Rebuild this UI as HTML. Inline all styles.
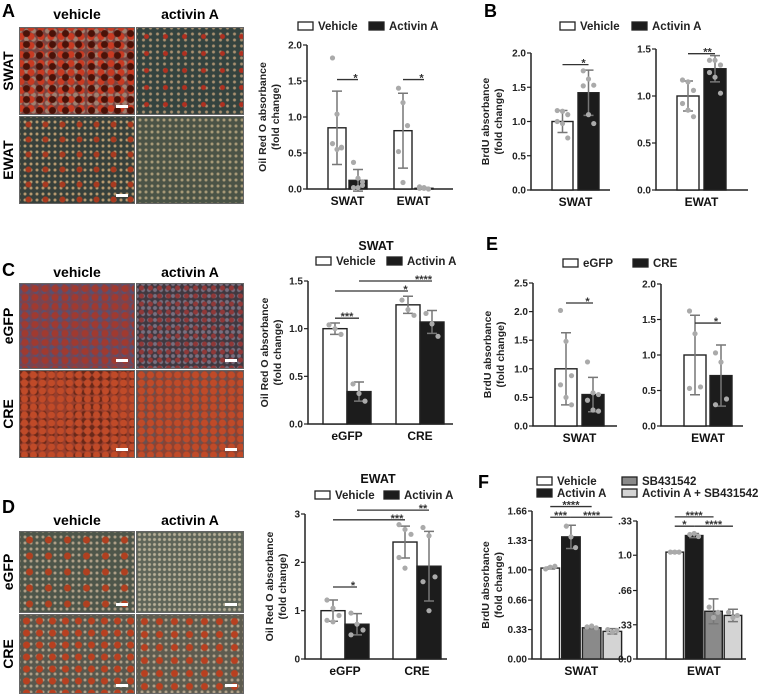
<!DOCTYPE html>
<html><head><meta charset="utf-8"><style>
body{margin:0;background:#fff;width:782px;height:698px;overflow:hidden;position:relative;font-family:"Liberation Sans",Arial,sans-serif}
.img{position:absolute;border:1px solid #666;box-sizing:border-box}
.sb{position:absolute;width:12px;height:3px;background:#fff;right:6px;bottom:6px}
svg{position:absolute;left:0;top:0}
text{font-family:"Liberation Sans",Arial,sans-serif;font-weight:bold}
</style></head><body>
<div class="img" style="left:19px;top:27px;width:116px;height:88px;background:radial-gradient(circle,#4a1208 0 3px,transparent 4px) 0 0/13px 11px,radial-gradient(circle,#c83a22 0 3px,transparent 4px) 6px 4px/10px 9px,radial-gradient(circle,#a08070 0 2px,transparent 3px) 3px 7px/7px 8px,#7a4440"><div class="sb"></div></div>
<div class="img" style="left:136px;top:27px;width:108px;height:88px;background:radial-gradient(circle,#b03020 0 2px,transparent 3px) 0 0/19px 17px,radial-gradient(circle,#a89070 0 1px,transparent 2px) 3px 3px/7px 6px,#34433f"></div>
<div class="img" style="left:19px;top:116px;width:116px;height:88px;background:radial-gradient(circle,#a83a20 0 2.5px,transparent 3.5px) 0 0/17px 15px,radial-gradient(circle,#b89a70 0 1px,transparent 2px) 2px 2px/6px 6px,#37403b"><div class="sb"></div></div>
<div class="img" style="left:136px;top:116px;width:108px;height:88px;background:radial-gradient(circle,#a89a78 0 1px,transparent 2px) 0 0/6px 6px,#4a5346"></div>
<div class="img" style="left:19px;top:283px;width:116px;height:86px;background:radial-gradient(circle,#a03a30 0 3px,transparent 4px) 0 0/10px 9px,radial-gradient(circle,#5a5070 0 2px,transparent 3px) 4px 4px/8px 7px,#7a4450"><div class="sb"></div></div>
<div class="img" style="left:136px;top:283px;width:108px;height:86px;background:radial-gradient(circle,#903838 0 2px,transparent 3px) 0 0/9px 8px,radial-gradient(circle,#787080 0 1.5px,transparent 2.5px) 3px 3px/6px 6px,#403840"><div class="sb"></div></div>
<div class="img" style="left:19px;top:370px;width:116px;height:88px;background:radial-gradient(circle,#c04a28 0 3px,transparent 4px) 0 0/9px 8px,radial-gradient(circle,#6a2818 0 2px,transparent 3px) 4px 4px/8px 7px,#983e2c"><div class="sb"></div></div>
<div class="img" style="left:136px;top:370px;width:108px;height:88px;background:radial-gradient(circle,#c04a28 0 3px,transparent 4px) 0 0/9px 8px,radial-gradient(circle,#6a5050 0 2px,transparent 3px) 4px 4px/8px 7px,#8c4232"><div class="sb"></div></div>
<div class="img" style="left:19px;top:531px;width:116px;height:82px;background:radial-gradient(circle,#b04020 0 3px,transparent 4px) 0 0/19px 16px,radial-gradient(circle,#b0a088 0 1px,transparent 2px) 2px 2px/6px 6px,#4e564a"><div class="sb"></div></div>
<div class="img" style="left:136px;top:531px;width:108px;height:82px;background:radial-gradient(circle,#b8b098 0 1px,transparent 2px) 0 0/5px 5px,#5e6458"><div class="sb"></div></div>
<div class="img" style="left:19px;top:614px;width:116px;height:80px;background:radial-gradient(circle,#b84020 0 3px,transparent 4px) 0 0/13px 12px,radial-gradient(circle,#b0a088 0 1px,transparent 2px) 2px 2px/6px 6px,#58584e"><div class="sb"></div></div>
<div class="img" style="left:136px;top:614px;width:108px;height:80px;background:radial-gradient(circle,#b84020 0 3px,transparent 4px) 0 0/15px 13px,radial-gradient(circle,#b0a088 0 1px,transparent 2px) 2px 2px/6px 6px,#5e5c50"><div class="sb"></div></div>

<svg id="fig" width="782" height="698" xmlns="http://www.w3.org/2000/svg">
<g font-size="18">
<text x="2" y="17">A</text><text x="484" y="17">B</text><text x="2" y="276">C</text><text x="486" y="250">E</text><text x="2" y="513">D</text><text x="478" y="488">F</text>
</g>
<g font-size="14" text-anchor="middle">
<text x="77" y="19">vehicle</text><text x="190" y="19">activin A</text>
<text x="77" y="277">vehicle</text><text x="190" y="277">activin A</text>
<text x="77" y="525">vehicle</text><text x="190" y="525">activin A</text>
<text transform="translate(13,71) rotate(-90)">SWAT</text><text transform="translate(13,160) rotate(-90)">EWAT</text>
<text transform="translate(13,326) rotate(-90)">eGFP</text><text transform="translate(13,414) rotate(-90)">CRE</text>
<text transform="translate(13,572) rotate(-90)">eGFP</text><text transform="translate(13,654) rotate(-90)">CRE</text>
</g>
</svg>
<script>
// Panel A
const aCats=["SWAT","EWAT"];
const aVeh=[0.85,0.81], aVehErr=[0.51,0.52];
const aAct=[0.12,0.01], aActErr=[0.15,0.01];
const aVehPts=[[1.82,1.04,0.58,0.63,0.55,0.57],[1.4,1.2,0.88,0.52,0.09]];
const aActPts=[[0.37,0.15,0.1,0.02,0.02,0.05],[0.03,0.01,0.0,0.01,0.02]];
const aTicks=[0,0.5,1,1.5,2], aTickLabels=["0.0","0.5","1.0","1.5","2.0"];
// Panel B
const bSwatVals=[1.0,1.42], bSwatErr=[0.16,0.33];
const bSwatPts=[[1.16,1.15,1.1,1.0,0.97,0.76],[1.74,1.62,1.53,1.52,1.1,0.97]];
const bEwatVals=[1.0,1.29], bEwatErr=[0.16,0.14];
const bEwatPts=[[1.17,1.15,1.06,0.92,0.85,0.78],[1.38,1.38,1.33,1.25,1.2,1.03]];
const bSwatTicks=[0,0.5,1,1.5,2], bSwatTickLabels=["0.0","0.5","1.0","1.5","2.0"];
const bEwatTicks=[0,0.5,1,1.5], bEwatTickLabels=["0.0","0.5","1.0","1.5"];
// Panel C
const cCats=["eGFP","CRE"];
const cVeh=[1.0,1.25], cVehErr=[0.06,0.09];
const cAct=[0.34,1.07], cActErr=[0.1,0.12];
const cVehPts=[[1.04,1.0,0.94],[1.3,1.2,1.14]];
const cActPts=[[0.42,0.32,0.24],[1.16,1.05,0.92]];
const cTicks=[0,0.5,1,1.5], cTickLabels=["0.0","0.5","1.0","1.5"];
// Panel D
const dVeh=[1.0,2.42], dVehErr=[0.22,0.33];
const dAct=[0.72,1.92], dActErr=[0.22,0.72];
const dVehPts=[[1.22,1.05,0.9,0.8,0.77],[2.78,2.68,2.58,2.1,1.88]];
const dActPts=[[0.95,0.72,0.6,0.5],[2.72,2.55,1.7,1.6,1.0]];
const dTicks=[0,1,2,3], dTickLabels=["0","1","2","3"];
// Panel E
const eSwatVals=[1.0,0.55], eSwatErr=[0.63,0.3];
const eSwatPts=[[2.02,1.48,0.88,0.72,0.5,0.37],[1.12,0.58,0.55,0.45,0.28,0.26]];
const eEwatVals=[1.0,0.71], eEwatErr=[0.56,0.43];
const eEwatPts=[[1.62,1.3,0.55,0.53],[1.03,0.9,0.38,0.3]];
const eSwatTicks=[0,0.5,1,1.5,2,2.5], eSwatTickLabels=["0.0","0.5","1.0","1.5","2.0","2.5"];
const eEwatTicks=[0,0.5,1,1.5,2], eEwatTickLabels=["0.0","0.5","1.0","1.5","2.0"];
// Panel F
const fSwatVals=[1.02,1.37,0.35,0.31], fSwatErr=[0.01,0.13,0.01,0.03];
const fSwatPts=[[1.01,1.03,1.04],[1.49,1.37,1.25],[0.36,0.37,0.35],[0.33,0.3,0.32]];
const fEwatVals=[1.03,1.19,0.46,0.42], fEwatErr=[0.01,0.02,0.12,0.06];
const fEwatPts=[[1.03,1.03,1.03],[1.2,1.21,1.18],[0.5,0.4,0.45],[0.45,0.4,0.42]];
const fSwatTicks=[0,0.33,0.66,1.0,1.33,1.66], fSwatTickLabels=["0.00","0.33","0.66","1.00","1.33","1.66"];
const fEwatTicks=[0,0.33,0.66,1.0,1.33], fEwatTickLabels=["0.0",".33",".66","1.0",".33"];

const NS="http://www.w3.org/2000/svg", svg=document.getElementById("fig");
function el(tag,attrs,parent,txt){const e=document.createElementNS(NS,tag);for(const k in attrs)e.setAttribute(k,attrs[k]);if(txt!==undefined)e.textContent=txt;(parent||svg).appendChild(e);return e;}

function chart(c){
  const g=el("g",{});
  
  
  const y=v=>c.yb-(v/c.max)*(c.yb-c.yt);
  const bx=(gi,si)=>c.x0+c.off+gi*c.gstep+si*c.bstep;
  const ax=el("path",{d:`M${c.x0},${c.yt} V${c.yb} H${c.x1}`,stroke:"#222","stroke-width":1.5,fill:"none"},g);
  
  
  c.ticks.forEach((t,i)=>{
    el("line",{x1:c.x0-4,x2:c.x0,y1:y(t),y2:y(t),stroke:"#222","stroke-width":1.2},g);
    const tl=el("text",{x:c.x0-5,y:y(t)+3.5,"font-size":10,"text-anchor":"end",fill:"#222"},g,c.tickLabels[i]);
    
    
  });
  c.series.forEach((s,si)=>{
    s.vals.forEach((v,gi)=>{
      const x=bx(gi,si), cx=x+c.bw/2;
      const r=el("rect",{x:x,y:y(v),width:c.bw,height:c.yb-y(v),fill:s.fill,stroke:"#222","stroke-width":1.4},g);
      
      
      const e=s.err[gi];
      el("path",{d:`M${cx},${y(v-e)} V${y(v+e)} M${cx-5},${y(v-e)} H${cx+5} M${cx-5},${y(v+e)} H${cx+5}`,stroke:"#777","stroke-width":1.5,fill:"none"},g);
      const pts=s.pts[gi];
      pts.forEach((p,pi)=>{
        const jit=pts.length>1?(pi%3-1)*c.bw*0.25:0;
        const d=el("circle",{cx:cx+jit,cy:y(p),r:2.6,fill:"#aaa"},g);
        
        
      });
    });
  });
  (c.sigs||[]).forEach(sg=>{
    const xa=bx(sg[0],sg[1])+c.bw/2, xb=bx(sg[2],sg[3])+c.bw/2, yy=y(sg[4]);
    el("line",{x1:xa,x2:xb,y1:yy,y2:yy,stroke:"#333","stroke-width":1.3},g);
    const st=el("text",{x:(xa+xb)/2+(sg[6]||0),y:yy+2,"font-size":11,"text-anchor":"middle",fill:"#333"},g,sg[5]);
    
    
  });
  c.cats.forEach((cat,gi)=>{
    const cx=(bx(gi,0)+bx(gi,c.series.length-1)+c.bw)/2;
    const t=el("text",{x:cx,y:c.yb+16,"font-size":12,"text-anchor":"middle",fill:"#111"},g,cat);
    
    
  });
  if(c.ytitle){
    const t=el("text",{transform:`translate(${c.ytx},${(c.yt+c.yb)/2}) rotate(-90)`,"font-size":10.5,"text-anchor":"middle",fill:"#222"},g);
    
    
    el("tspan",{x:0,dy:0},t,c.ytitle[0]);el("tspan",{x:0,dy:13},t,c.ytitle[1]);
  }
}
function legend(x,y,items,name){
  const g=el("g",{});
  
  
  items.forEach(it=>{
    el("rect",{x:it[0],y:it[1]-8,width:15,height:8,fill:it[2],stroke:"#222","stroke-width":1.3},g);
    const t=el("text",{x:it[0]+20,y:it[1],"font-size":11.5,fill:"#222"},g,it[3]);
    
    
  });
}
const W="#fff",K="#1c1c1c";
const oro=["Oil Red O absorbance","(fold change)"], brdu=["BrdU absorbance","(fold change)"];
chart({name:"chart-a",x0:307,x1:453,yb:189,yt:45,max:2,ticks:aTicks,tickLabels:aTickLabels,off:21,gstep:66,bstep:21,bw:18,cats:aCats,
 series:[{key:"vehicle",vals:aVeh,err:aVehErr,pts:aVehPts,fill:W},{key:"activin",vals:aAct,err:aActErr,pts:aActPts,fill:K}],
 sigs:[[0,0,0,1,1.52,"*",8],[1,0,1,1,1.52,"*",8]],ytitle:oro,ytx:266});
legend(0,0,[[298,30,W,"Vehicle"],[369,30,K,"Activin A"]],"legend-a");
chart({name:"chart-b-swat",x0:531,x1:610,yb:190,yt:53,max:2,ticks:bSwatTicks,tickLabels:bSwatTickLabels,off:21,gstep:0,bstep:26,bw:21,cats:["SWAT"],
 series:[{key:"vehicle",vals:[bSwatVals[0]],err:[bSwatErr[0]],pts:[bSwatPts[0]],fill:W},{key:"activin",vals:[bSwatVals[1]],err:[bSwatErr[1]],pts:[bSwatPts[1]],fill:K}],
 sigs:[[0,0,0,1,1.83,"*",8]],ytitle:brdu,ytx:489});
chart({name:"chart-b-ewat",x0:656,x1:748,yb:190,yt:49,max:1.5,ticks:bEwatTicks,tickLabels:bEwatTickLabels,off:21,gstep:0,bstep:27,bw:22,cats:["EWAT"],
 series:[{key:"vehicle",vals:[bEwatVals[0]],err:[bEwatErr[0]],pts:[bEwatPts[0]],fill:W},{key:"activin",vals:[bEwatVals[1]],err:[bEwatErr[1]],pts:[bEwatPts[1]],fill:K}],
 sigs:[[0,0,0,1,1.45,"**",6]]});
legend(0,0,[[560,30,W,"Vehicle"],[632,30,K,"Activin A"]],"legend-b");
el("text",{x:376,y:250,"font-size":12.5,"text-anchor":"middle",fill:"#111"},svg,"SWAT");
chart({name:"chart-c",x0:308,x1:453,yb:424,yt:281,max:1.5,ticks:cTicks,tickLabels:cTickLabels,off:15,gstep:73,bstep:24,bw:24,cats:cCats,
 series:[{key:"vehicle",vals:cVeh,err:cVehErr,pts:cVehPts,fill:W},{key:"activin",vals:cAct,err:cActErr,pts:cActPts,fill:K}],
 sigs:[[0,0,0,1,1.11,"***",0],[0,0,1,0,1.395,"*",34],[0,1,1,1,1.5,"****",28]],ytitle:oro,ytx:268});
legend(0,0,[[316,265,W,"Vehicle"],[387,265,K,"Activin A"]],"legend-c");
el("text",{x:378,y:483,"font-size":12.5,"text-anchor":"middle",fill:"#111"},svg,"EWAT");
chart({name:"chart-d",x0:305,x1:447,yb:659,yt:514,max:3,ticks:dTicks,tickLabels:dTickLabels,off:16,gstep:72,bstep:24,bw:24,cats:cCats,
 series:[{key:"vehicle",vals:dVeh,err:dVehErr,pts:dVehPts,fill:W},{key:"activin",vals:dAct,err:dActErr,pts:dActPts,fill:K}],
 sigs:[[0,0,0,1,1.49,"*",8],[0,0,1,0,2.88,"***",28],[0,1,1,1,3.08,"**",30]],ytitle:oro,ytx:273});
legend(0,0,[[315,499,W,"Vehicle"],[384,499,K,"Activin A"]],"legend-d");
chart({name:"chart-e-swat",x0:533,x1:617,yb:426,yt:283,max:2.5,ticks:eSwatTicks,tickLabels:eSwatTickLabels,off:22,gstep:0,bstep:27,bw:22,cats:["SWAT"],
 series:[{key:"egfp",vals:[eSwatVals[0]],err:[eSwatErr[0]],pts:[eSwatPts[0]],fill:W},{key:"cre",vals:[eSwatVals[1]],err:[eSwatErr[1]],pts:[eSwatPts[1]],fill:K}],
 sigs:[[0,0,0,1,2.15,"*",8]],ytitle:brdu,ytx:491});
chart({name:"chart-e-ewat",x0:661,x1:743,yb:426,yt:284,max:2,ticks:eEwatTicks,tickLabels:eEwatTickLabels,off:23,gstep:0,bstep:26,bw:22,cats:["EWAT"],
 series:[{key:"egfp",vals:[eEwatVals[0]],err:[eEwatErr[0]],pts:[eEwatPts[0]],fill:W},{key:"cre",vals:[eEwatVals[1]],err:[eEwatErr[1]],pts:[eEwatPts[1]],fill:K}],
 sigs:[[0,0,0,1,1.45,"*",8]]});
legend(0,0,[[563,267,W,"eGFP"],[633,267,K,"CRE"]],"legend-e");
const fFills=["#fff","#1c1c1c","#8a8a8a","#d4d4d4"];
function fSeries(vals,err,pts){return vals.map((v,i)=>({key:"f"+i,vals:[v],err:[err[i]],pts:[pts[i]],fill:fFills[i]}));}
chart({name:"chart-f-swat",x0:532,x1:626,yb:659,yt:511,max:1.66,ticks:fSwatTicks,tickLabels:fSwatTickLabels,off:9,gstep:0,bstep:20.7,bw:18.5,cats:["SWAT"],
 series:fSeries(fSwatVals,fSwatErr,fSwatPts),sigs:[[0,0,0,1,1.59,"***",0],[0,1,0,3,1.59,"****",0],[0,0,0,2,1.71,"****",0]],ytitle:brdu,ytx:489});
chart({name:"chart-f-ewat",x0:637,x1:746,yb:659,yt:521,max:1.33,ticks:fEwatTicks,tickLabels:fEwatTickLabels,off:29,gstep:0,bstep:19.4,bw:17.5,cats:["EWAT"],
 series:fSeries(fEwatVals,fEwatErr,fEwatPts),sigs:[[0,0,0,1,1.28,"*",0],[0,1,0,3,1.28,"****",0],[0,0,0,2,1.37,"****",0]]});
legend(0,0,[[537,485,fFills[0],"Vehicle"],[537,497,fFills[1],"Activin A"],[622,485,fFills[2],"SB431542"],[622,497,fFills[3],"Activin A + SB431542"]],"legend-f");
</script>
</body></html>
